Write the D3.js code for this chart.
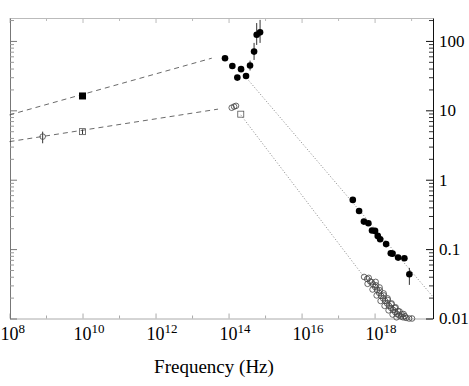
<!DOCTYPE html>
<html>
<head>
<meta charset="utf-8">
<script src="https://cdn.jsdelivr.net/npm/d3@7"></script>
<style>
  body { margin: 0; background: #fff; }
  svg { display: block; font-family: "Liberation Serif", "Times New Roman", serif; }
</style>
</head>
<body>
<div id="vis"></div>
<script>
// Axis ticks
const xTickExps = [8, 10, 12, 14, 16, 18];
const xMinorExps = [9, 11, 13, 15, 17, 19];
const yTickValues = [100, 10, 1, 0.1, 0.01];
const yTickLabels = ["100", "10", "1", "0.1", "0.01"];

// Radio points: [freq, flux, errLo, errHi]
const radioFilledSq = [[1e10, 16.1]];
const radioOpenSq = [[1e10, 4.93, 4.55, 5.3]];
const radioOpenCirc = [[8.1e8, 4.18, 3.35, 4.93]];

// IR / optical points
const irFilled = [
  [8.0e13, 56.4], [1.27e14, 43.6], [1.74e14, 29.6], [2.20e14, 39.2],
  [3.01e14, 31.3], [3.88e14, 44.2, 37.5, 52], [5.0e14, 70.2, 53.2, 93.6],
  [5.9e14, 123, 87.5, 181], [7.3e14, 133, 93.6, 201]
];
const irOpenCirc = [[1.22e14, 10.9], [1.42e14, 11.3], [1.60e14, 11.6]];
const irOpenSq = [[2.16e14, 8.8]];

// X-ray points
const xrayFilled = [
  [2.53e17, 0.512], [3.76e17, 0.355], [5.1e17, 0.249], [6.76e17, 0.236],
  [8.5e17, 0.185], [1.03e18, 0.183], [1.22e18, 0.155], [1.42e18, 0.139],
  [2.07e18, 0.118], [2.78e18, 0.087], [3.1e18, 0.086], [4.41e18, 0.0755],
  [6.55e18, 0.074], [8.97e18, 0.0435, 0.0305, 0.0536]
];
const xrayOpen = [
  [5.15e17, 0.0397], [6.24e17, 0.0372], [7.53e17, 0.0343], [9.10e17, 0.0310],
  [1.03e18, 0.0285], [1.17e18, 0.0258], [1.33e18, 0.0234], [1.51e18, 0.0212],
  [1.71e18, 0.0195], [1.94e18, 0.0179], [2.20e18, 0.0165], [2.49e18, 0.0152],
  [2.83e18, 0.0142], [3.21e18, 0.0133], [3.65e18, 0.0124], [4.13e18, 0.0116],
  [4.69e18, 0.0111], [5.32e18, 0.0107], [6.04e18, 0.0104], [7.29e18, 0.0102],
  [8.81e18, 0.0100], [1.06e19, 0.0100],
  [6.9e17, 0.0385], [8.3e17, 0.0335], [1.1e18, 0.0300], [1.4e18, 0.0255],
  [1.8e18, 0.0215], [2.3e18, 0.0185], [2.9e18, 0.0160], [3.6e18, 0.0142],
  [4.4e18, 0.0128], [5.5e18, 0.0116], [6.8e18, 0.0108],
  [6.43e17, 0.0316], [8.8e17, 0.0262], [1.14e18, 0.0215], [1.46e18, 0.0179],
  [1.88e18, 0.0152], [2.42e18, 0.0131], [3.12e18, 0.0114], [4.0e18, 0.0104],
  [1.07e18, 0.0337], [1.37e18, 0.0280], [1.77e18, 0.0230], [2.27e18, 0.0195],
  [2.92e18, 0.0165], [3.76e18, 0.0145], [4.84e18, 0.0126], [6.23e18, 0.0116]
];

// Power-law lines
const dashedUpper = [[1e8, 8.6], [3.47e13, 56.4]];
const dashedLower = [[1e8, 3.54], [5.15e13, 10.4]];
const dottedUpper = [[3.15e14, 29.0], [4.0e19, 0.0205]];
const dottedLower = [[2.16e14, 8.6], [5.15e17, 0.0397]];

const width = 469;
const height = 386;

const svg = d3.select("#vis")
  .append("svg")
  .attr("width", width)
  .attr("height", height);

const x = d3.scaleLog()
  .domain([1e8, Math.pow(10, 19.6)])
  .range([9.5, 433]);

const y = d3.scaleLog()
  .domain([0.01, 214])
  .range([318.5, 18]);

const xMajor = xTickExps.map(e => Math.pow(10, e));
const xMinor = xMinorExps.map(e => Math.pow(10, e)).filter(v => v <= x.domain()[1]);
const yMinor = [];
[0.01, 0.1, 1, 10, 100].forEach(dec => {
  d3.range(2, 10).forEach(m => { if (dec * m <= 214) yMinor.push(dec * m); });
});

// Top axis (faint)
svg.append("g")
  .attr("transform", "translate(0,18)")
  .call(d3.axisTop(x).tickValues(xMajor).tickSize(-5).tickSizeOuter(0).tickFormat(""))
  .style("color", "#bbb");
svg.append("g")
  .attr("transform", "translate(0,18)")
  .call(d3.axisTop(x).tickValues(xMinor).tickSize(-3).tickSizeOuter(0).tickFormat(""))
  .style("color", "#bbb")
  .call(g => g.select(".domain").remove());

// Bottom axis
svg.append("g")
  .attr("transform", "translate(0,318.5)")
  .call(d3.axisBottom(x).tickValues(xMajor).tickSize(-5).tickSizeOuter(0).tickFormat(""))
  .style("color", "#aaa");
svg.append("g")
  .attr("transform", "translate(0,318.5)")
  .call(d3.axisBottom(x).tickValues(xMinor).tickSize(-3).tickSizeOuter(0).tickFormat(""))
  .style("color", "#aaa")
  .call(g => g.select(".domain").remove());

// Left axis (no labels)
svg.append("g")
  .attr("transform", "translate(10,0)")
  .call(d3.axisRight(y).tickValues(yTickValues).tickSize(7).tickSizeOuter(0).tickFormat(""))
  .style("color", "#777");
svg.append("g")
  .attr("transform", "translate(10,0)")
  .call(d3.axisRight(y).tickValues(yMinor).tickSize(4).tickSizeOuter(0).tickFormat(""))
  .style("color", "#999")
  .call(g => g.select(".domain").remove());

// Right axis with labels
svg.append("g")
  .attr("transform", "translate(433,0)")
  .call(d3.axisRight(y).tickValues(yTickValues).tickSize(-7).tickSizeOuter(0).tickPadding(6)
    .tickFormat((d, i) => yTickLabels[i]))
  .style("color", "#111")
  .call(g => g.selectAll("text")
    .attr("font-family", "Liberation Serif, serif")
    .attr("font-size", "17px")
    .attr("fill", "#000"));
svg.append("g")
  .attr("transform", "translate(433,0)")
  .call(d3.axisRight(y).tickValues(yMinor).tickSize(-4).tickSizeOuter(0).tickFormat(""))
  .style("color", "#333")
  .call(g => g.select(".domain").remove());

// X tick labels 10^n
const xLabels = svg.append("g")
  .attr("font-size", "18px")
  .attr("fill", "#000");
xTickExps.forEach(e => {
  const t = xLabels.append("text")
    .attr("x", x(Math.pow(10, e)) - 9)
    .attr("y", 340);
  t.append("tspan").text("10");
  t.append("tspan")
    .attr("dy", -7)
    .attr("font-size", "13px")
    .text(e);
});

svg.append("text")
  .attr("x", 214)
  .attr("y", 373)
  .attr("text-anchor", "middle")
  .attr("font-size", "19px")
  .attr("fill", "#000")
  .text("Frequency (Hz)");

// Lines
const line = d3.line().x(d => x(d[0])).y(d => y(d[1]));

[dashedUpper, dashedLower].forEach(d => {
  svg.append("path")
    .attr("d", line(d))
    .attr("fill", "none")
    .attr("stroke", "#444")
    .attr("stroke-width", 0.8)
    .attr("stroke-dasharray", "5,4");
});

[dottedUpper, dottedLower].forEach(d => {
  svg.append("path")
    .attr("d", line(d))
    .attr("fill", "none")
    .attr("stroke", "#777")
    .attr("stroke-width", 0.9)
    .attr("stroke-dasharray", "1,2");
});

// Error bars
const withErr = [].concat(radioOpenSq, radioOpenCirc, irFilled, xrayFilled).filter(d => d.length > 2);
svg.append("g")
  .selectAll("line")
  .data(withErr)
  .enter()
  .append("line")
  .attr("x1", d => x(d[0]))
  .attr("x2", d => x(d[0]))
  .attr("y1", d => y(d[2]))
  .attr("y2", d => y(d[3]))
  .attr("stroke", "#333")
  .attr("stroke-width", 1);

// Open circles
svg.append("g")
  .selectAll("circle")
  .data([].concat(radioOpenCirc, irOpenCirc, xrayOpen))
  .enter()
  .append("circle")
  .attr("cx", d => x(d[0]))
  .attr("cy", d => y(d[1]))
  .attr("r", 2.8)
  .attr("fill", "none")
  .attr("stroke", "#444")
  .attr("stroke-width", 0.8);

// Open squares
svg.append("g")
  .selectAll("rect")
  .data([].concat(radioOpenSq, irOpenSq))
  .enter()
  .append("rect")
  .attr("x", d => x(d[0]) - 3)
  .attr("y", d => y(d[1]) - 3)
  .attr("width", 6)
  .attr("height", 6)
  .attr("fill", "none")
  .attr("stroke", "#555")
  .attr("stroke-width", 0.8);

// Filled squares
svg.append("g")
  .selectAll("rect")
  .data(radioFilledSq)
  .enter()
  .append("rect")
  .attr("x", d => x(d[0]) - 3.5)
  .attr("y", d => y(d[1]) - 3.5)
  .attr("width", 7)
  .attr("height", 7)
  .attr("fill", "#000");

// Filled circles
svg.append("g")
  .selectAll("circle")
  .data([].concat(irFilled, xrayFilled))
  .enter()
  .append("circle")
  .attr("cx", d => x(d[0]))
  .attr("cy", d => y(d[1]))
  .attr("r", 3.3)
  .attr("fill", "#000");
</script>
</body>
</html>
